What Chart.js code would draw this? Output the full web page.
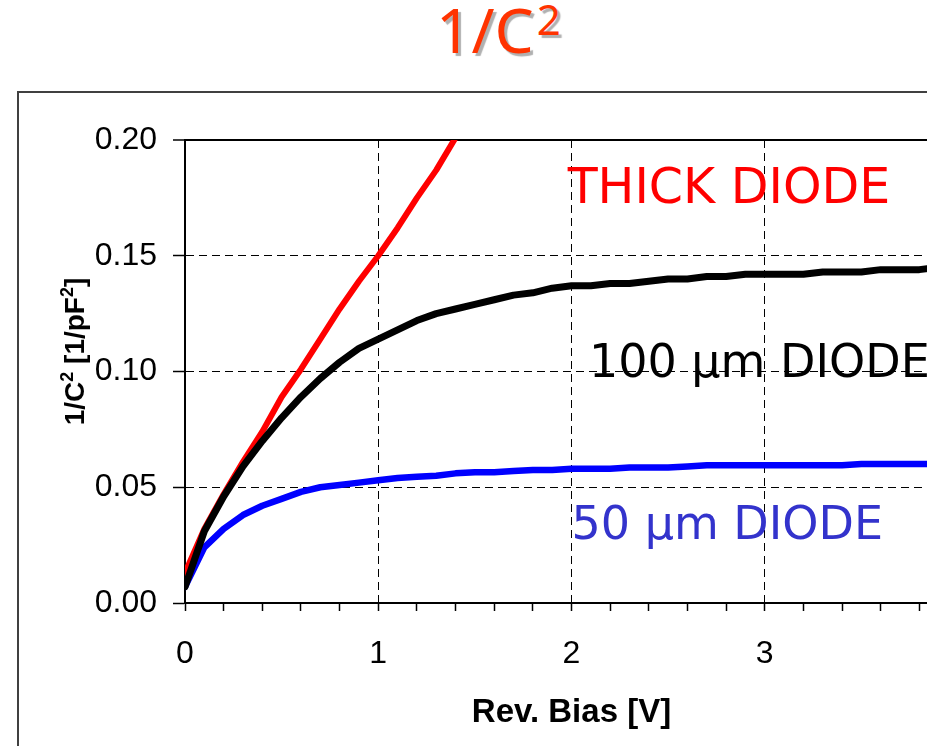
<!DOCTYPE html>
<html>
<head>
<meta charset="utf-8">
<title>1/C² vs reverse bias</title>
<script src="https://cdn.jsdelivr.net/npm/chart.js@4"></script>
<style>
  html, body { margin: 0; padding: 0; background: #fff; }
  #wrap { position: relative; width: 927px; height: 746px; overflow: hidden; }
  #heading {
    position: absolute; left: 436px; top: -2px; margin: 0;
    font: 62px/62px 'Noto Sans', sans-serif; color: #ff3300;
    white-space: nowrap; text-shadow: 3px 3px 1px #b0b0b0;
  }
  #heading sup { font-size: 42px; vertical-align: 18px; line-height: 0; margin-left: 3px; }
  #frame {
    position: absolute; left: 17px; top: 91px; width: 1000px; height: 800px;
    border-left: 2px solid #404040; border-top: 2px solid #404040;
    pointer-events: none;
  }
  #chart { position: absolute; left: 0; top: 0; }
</style>
</head>
<body>
<div id="wrap">
  <div id="heading">1/C<sup>2</sup></div>
  <canvas id="chart" width="1000" height="760"></canvas>
  <div id="frame"></div>
</div>
<script>
// reverse bias steps [V]
const bias = [0, 0.1, 0.2, 0.3, 0.4, 0.5, 0.6, 0.7, 0.8, 0.9,
              1.0, 1.1, 1.2, 1.3, 1.4, 1.5, 1.6, 1.7, 1.8, 1.9,
              2.0, 2.1, 2.2, 2.3, 2.4, 2.5, 2.6, 2.7, 2.8, 2.9,
              3.0, 3.1, 3.2, 3.3, 3.4, 3.5, 3.6, 3.7, 3.8, 3.9, 4.0];

// 1/C^2 [1/pF^2] for each diode
const thickDiode = [0.013, 0.032, 0.047, 0.061, 0.074, 0.089, 0.101, 0.114, 0.127, 0.139,
                    0.150, 0.162, 0.175, 0.187, 0.201];
const diode100 = [0.007, 0.031, 0.046, 0.059, 0.070, 0.080, 0.089, 0.097, 0.104, 0.110,
                  0.114, 0.118, 0.122, 0.125, 0.127, 0.129, 0.131, 0.133, 0.134, 0.136,
                  0.137, 0.137, 0.138, 0.138, 0.139, 0.140, 0.140, 0.141, 0.141, 0.142,
                  0.142, 0.142, 0.142, 0.143, 0.143, 0.143, 0.144, 0.144, 0.144, 0.145, 0.145];
const diode50 = [0.007, 0.024, 0.032, 0.038, 0.042, 0.045, 0.048, 0.050, 0.051, 0.052,
                 0.053, 0.054, 0.0545, 0.055, 0.056, 0.0565, 0.0565, 0.057, 0.0575, 0.0575,
                 0.058, 0.058, 0.058, 0.0585, 0.0585, 0.0585, 0.059, 0.0595, 0.0595, 0.0595,
                 0.0595, 0.0595, 0.0595, 0.0595, 0.0595, 0.060, 0.060, 0.060, 0.060, 0.060, 0.060];

const yTicks = [0, 0.05, 0.10, 0.15, 0.20];
const xLabels = [0, 1, 2, 3, 4];

const toPoints = vals => vals.map((v, i) => ({ x: bias[i], y: v }));
const isWhole = v => Math.abs(v - Math.round(v)) < 1e-6;

// curve labels, placed in data units
const curveLabels = [
  { text: 'THICK DIODE',  x: 1.98, y: 0.1728, color: '#ff0000', size: 49 },
  { text: '100 μm DIODE', x: 2.09, y: 0.0976, color: '#000000', size: 46 },
  { text: '50 μm DIODE',  x: 2.00, y: 0.0276, color: '#3333cc', size: 46 }
];

const labelsPlugin = {
  id: 'curveLabels',
  afterDatasetsDraw(chart) {
    const { ctx, scales: { x, y } } = chart;
    ctx.save();
    ctx.textAlign = 'left';
    ctx.textBaseline = 'alphabetic';
    curveLabels.forEach(l => {
      ctx.font = l.size + "px 'DejaVu Sans', sans-serif";
      ctx.fillStyle = l.color;
      ctx.fillText(l.text, x.getPixelForValue(l.x), y.getPixelForValue(l.y));
    });
    ctx.restore();
  }
};

// y-axis title with real superscripts
const yTitlePlugin = {
  id: 'yTitle',
  afterDraw(chart) {
    const { ctx, chartArea } = chart;
    const parts = [['1/C', false], ['2', true], [' [1/pF', false], ['2', true], [']', false]];
    const bigFont = "bold 28px 'Liberation Sans', Arial, sans-serif";
    const smallFont = "bold 18px 'Liberation Sans', Arial, sans-serif";
    ctx.save();
    let total = 0;
    parts.forEach(([t, sup]) => { ctx.font = sup ? smallFont : bigFont; total += ctx.measureText(t).width; });
    ctx.translate(84, (chartArea.top + chartArea.bottom) / 2 - 20);
    ctx.rotate(-Math.PI / 2);
    ctx.fillStyle = '#000';
    ctx.textBaseline = 'alphabetic';
    let pos = -total / 2;
    parts.forEach(([t, sup]) => {
      ctx.font = sup ? smallFont : bigFont;
      ctx.fillText(t, pos, sup ? -11 : 0);
      pos += ctx.measureText(t).width;
    });
    ctx.restore();
  }
};

const lineStyle = { borderWidth: 6, pointRadius: 0, tension: 0, clip: 0,
                    borderJoinStyle: 'round', borderCapStyle: 'round' };

Chart.defaults.font.family = "'Liberation Sans', Arial, sans-serif";
Chart.defaults.color = '#000';

new Chart(document.getElementById('chart'), {
  type: 'line',
  data: {
    datasets: [
      { label: '100 μm DIODE', data: toPoints(diode100), borderColor: '#000000', ...lineStyle, borderWidth: 7 },
      { label: 'THICK DIODE', data: toPoints(thickDiode), borderColor: '#ff0000', ...lineStyle },
      { label: '50 μm DIODE', data: toPoints(diode50), borderColor: '#0000ff', ...lineStyle, borderWidth: 6.5 }
    ]
  },
  options: {
    responsive: false,
    animation: false,
    layout: { padding: { top: 140, right: 42, left: 0, bottom: 0 } },
    plugins: { legend: { display: false }, tooltip: { enabled: false } },
    scales: {
      x: {
        type: 'linear',
        min: 0,
        max: 4,
        afterFit: s => { s.height = 157; },
        border: { color: '#000', width: 2, dash: [8, 5] },
        grid: {
          color: c => (isWhole(c.tick.value) && c.tick.value > 0) ? '#000' : 'rgba(0,0,0,0)',
          tickColor: '#000',
          tickLength: 8,
          tickWidth: 1.5
        },
        ticks: {
          stepSize: 0.2,
          autoSkip: false,
          maxRotation: 0,
          padding: 24,
          font: { size: 32 },
          callback: v => isWhole(v) && xLabels.includes(Math.round(v)) ? String(Math.round(v)) : ''
        },
        title: {
          display: true,
          text: 'Rev. Bias [V]',
          font: { size: 33, weight: 'bold' },
          padding: { top: 0, bottom: 27 }
        }
      },
      y: {
        min: 0,
        max: 0.2,
        afterFit: s => { s.width = 185; },
        afterBuildTicks: s => { s.ticks = yTicks.map(v => ({ value: v })); },
        border: {
          color: '#000',
          width: 2,
          dash: c => (c.tick && c.tick.value > 0.199) ? [] : [8, 5]
        },
        grid: {
          color: c => c.tick.value === 0 ? 'rgba(0,0,0,0)' : '#000',
          lineWidth: c => c.tick.value > 0.199 ? 2 : 1,
          tickColor: '#000',
          tickLength: 12,
          tickWidth: 1.5
        },
        ticks: {
          padding: 16,
          font: { size: 32 },
          callback: v => v.toFixed(2)
        }
      }
    }
  },
  plugins: [labelsPlugin, yTitlePlugin]
});
</script>
</body>
</html>
